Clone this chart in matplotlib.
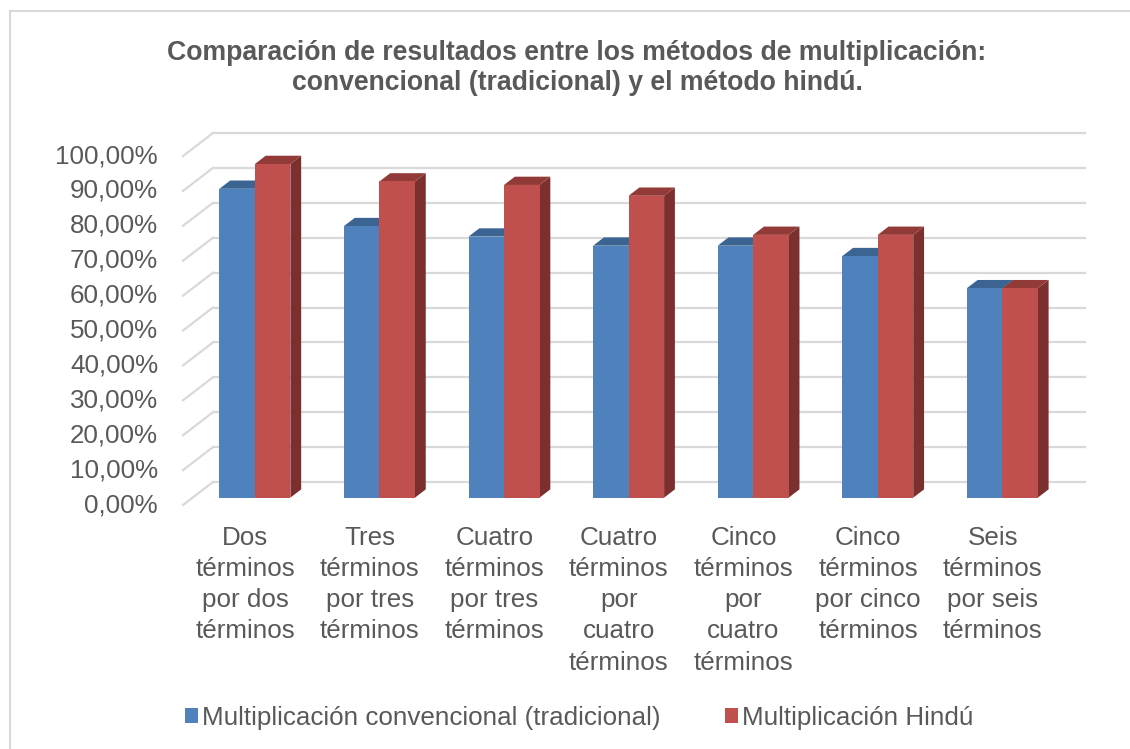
import numpy as np
import matplotlib
matplotlib.use("Agg")
import matplotlib.pyplot as plt
from matplotlib.patches import Polygon, Patch
from matplotlib.lines import Line2D

plt.rcParams['font.family'] = ['Liberation Sans', 'DejaVu Sans']

# Data
categories = [
    "Dos\ntérminos\npor dos\ntérminos",
    "Tres\ntérminos\npor tres\ntérminos",
    "Cuatro\ntérminos\npor tres\ntérminos",
    "Cuatro\ntérminos\npor\ncuatro\ntérminos",
    "Cinco\ntérminos\npor\ncuatro\ntérminos",
    "Cinco\ntérminos\npor cinco\ntérminos",
    "Seis\ntérminos\npor seis\ntérminos",
]
convencional = [0.885, 0.778, 0.748, 0.722, 0.722, 0.692, 0.600]
hindu = [0.956, 0.906, 0.896, 0.865, 0.753, 0.753, 0.600]
series_names = ["Multiplicación convencional (tradicional)", "Multiplicación Hindú"]
y_ticks = [0.0, 0.1, 0.2, 0.3, 0.4, 0.5, 0.6, 0.7, 0.8, 0.9, 1.0]
title = ("Comparación de resultados entre los métodos de multiplicación:\n"
         "convencional (tradicional) y el método hindú.")

# colours: front, top, side
blue = ("#4F81BD", "#3B6493", "#2F5178")
red = ("#C0504D", "#923A37", "#7B2F2E")
grid_c = "#D9D9D9"
text_c = "#595959"

W, H = 1130, 749
fig = plt.figure(figsize=(W / 100, H / 100), dpi=100)

# pseudo-3D geometry (data units)
depth_x, depth_y = 0.241, 0.066     # floor depth: back wall -> front edge
bar_front = 0.68                    # depth of bar front face (fraction from back)
bar_back = 0.32
bar_w = 0.285

ax = fig.add_axes([150 / W, 1 - 520 / H, 950 / W, 400 / H])
ax.set_xlim(-0.5 - 63 / 124.57, 6.5 + 15 / 124.57)
ax.set_ylim(-38 / 349, 1 + 13 / 349)
ax.axis("off")

n = len(categories)

# gridlines: back wall + left side wall
for v in y_ticks:
    ax.plot([-0.5, n - 0.5], [v, v], color=grid_c, lw=1.6, zorder=1)
    ax.plot([-0.5 - depth_x, -0.5], [v - depth_y, v], color=grid_c, lw=1.6, zorder=1)
    lab = f"{v * 100:.2f}".replace(".", ",") + "%"
    ax.text(-0.5 - depth_x - 0.2, v - depth_y, lab, ha="right", va="center",
            fontsize=18.7, color=text_c)


def bar3d(x0, h, cols):
    yb = -bar_front * depth_y
    dx = (bar_front - bar_back) * depth_x
    dy = (bar_front - bar_back) * depth_y
    front = [(x0, yb), (x0 + bar_w, yb), (x0 + bar_w, yb + h), (x0, yb + h)]
    top = [(x0, yb + h), (x0 + bar_w, yb + h), (x0 + bar_w + dx, yb + h + dy), (x0 + dx, yb + h + dy)]
    side = [(x0 + bar_w, yb), (x0 + bar_w + dx, yb + dy), (x0 + bar_w + dx, yb + h + dy), (x0 + bar_w, yb + h)]
    ax.add_patch(Polygon(side, closed=True, fc=cols[2], ec="none", zorder=2))
    ax.add_patch(Polygon(top, closed=True, fc=cols[1], ec="none", zorder=2))
    ax.add_patch(Polygon(front, closed=True, fc=cols[0], ec="none", zorder=2))


for i in range(n):
    cx = i - bar_front * depth_x
    bar3d(cx - bar_w, convencional[i], blue)
    bar3d(cx, hindu[i], red)
    ax.text(i - depth_x, -0.125, categories[i], ha="center", va="top",
            fontsize=18.7, color=text_c, linespacing=1.38)

fig.text(577 / W, 1 - 68 / H, title, ha="center", va="center", fontsize=19.2,
         fontweight="bold", color=text_c, linespacing=1.18)

handles = [Patch(facecolor=blue[0]), Patch(facecolor=red[0])]
fig.legend(handles, series_names, loc="center", bbox_to_anchor=(579 / W, 1 - 718 / H),
           ncol=2, frameon=False, fontsize=18.7, handlelength=0.5, handleheight=0.5,
           handletextpad=0.15, columnspacing=2.5, borderpad=0, labelcolor=text_c)

# chart border (top and left edges visible)
fig.add_artist(Line2D([10 / W, 1], [1 - 11 / H, 1 - 11 / H], transform=fig.transFigure,
                      color=grid_c, lw=1.5))
fig.add_artist(Line2D([10 / W, 10 / W], [1 - 11 / H, 0], transform=fig.transFigure,
                      color=grid_c, lw=1.5))

fig.savefig("out.png", dpi=100)
